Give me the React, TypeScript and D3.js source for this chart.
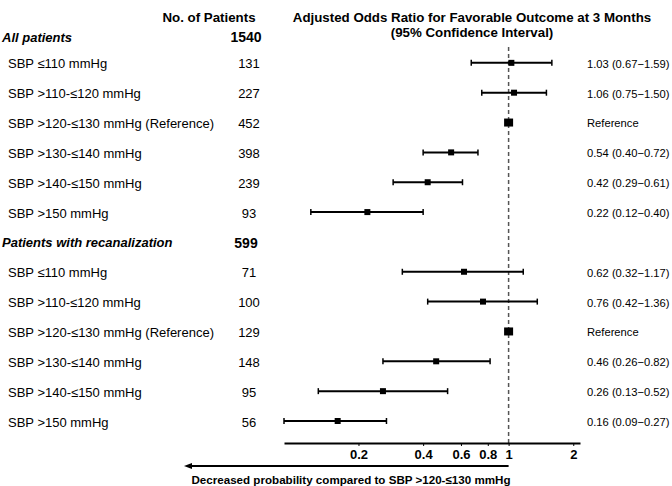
import React, { useEffect, useRef } from 'react';
import * as d3 from 'd3';

// rows of the table
const groupLabels = ['All patients', 'Patients with recanalization'];
const groupTotals = [1540, 599];
const sbpCategories = [
  'SBP ≤110 mmHg',
  'SBP >110-≤120 mmHg',
  'SBP >120-≤130 mmHg (Reference)',
  'SBP >130-≤140 mmHg',
  'SBP >140-≤150 mmHg',
  'SBP >150 mmHg',
];
const referenceIndex = 2;

// all patients
const nAll = [131, 227, 452, 398, 239, 93];
const orAll = [1.03, 1.06, 1, 0.54, 0.42, 0.22];
const lowAll = [0.67, 0.75, 1, 0.40, 0.29, 0.12];
const highAll = [1.59, 1.50, 1, 0.72, 0.61, 0.40];

// patients with recanalization
const nRecan = [71, 100, 129, 148, 95, 56];
const orRecan = [0.62, 0.76, 1, 0.46, 0.26, 0.16];
const lowRecan = [0.32, 0.42, 1, 0.26, 0.13, 0.09];
const highRecan = [1.17, 1.36, 1, 0.82, 0.52, 0.27];

const xTicks = [0.2, 0.4, 0.6, 0.8, 1, 2];

const FONT = '"Liberation Sans", Arial, sans-serif';

function App() {
  const svgRef = useRef<SVGSVGElement>(null);

  useEffect(() => {
    const width = 672;
    const height = 486;
    const axisY = 443;

    const svg = d3.select(svgRef.current)
      .attr('width', width)
      .attr('height', height)
      .style('font-family', FONT);
    svg.selectAll('*').remove();

    // build table rows from the arrays
    type Row = { label: string; n: number; group: boolean; or?: number; lo?: number; hi?: number; ref?: boolean };
    const rows: Row[] = [];
    const groups = [
      { n: nAll, or: orAll, lo: lowAll, hi: highAll },
      { n: nRecan, or: orRecan, lo: lowRecan, hi: highRecan },
    ];
    groups.forEach((g, gi) => {
      rows.push({ label: groupLabels[gi], n: groupTotals[gi], group: true });
      sbpCategories.forEach((c, i) => {
        rows.push({ label: c, n: g.n[i], group: false, or: g.or[i], lo: g.lo[i], hi: g.hi[i], ref: i === referenceIndex });
      });
    });

    const yScale = d3.scalePoint<number>()
      .domain(rows.map((_, i) => i))
      .range([34, 422]);
    // first heading sits a bit lower, just under the column titles
    const rowY = (i: number) => yScale(i)! + (i === 0 ? 3 : 0);

    const xScale = d3.scaleLog()
      .domain([0.09, 2.15])
      .range([284, 580]);

    // headers
    svg.append('text')
      .attr('x', 209).attr('y', 22)
      .attr('text-anchor', 'middle')
      .attr('font-size', 13.3).attr('font-weight', 'bold')
      .text('No. of Patients');
    svg.append('text')
      .attr('x', 472).attr('y', 22)
      .attr('text-anchor', 'middle')
      .attr('font-size', 13.3).attr('font-weight', 'bold')
      .text('Adjusted Odds Ratio for Favorable Outcome at 3 Months');
    svg.append('text')
      .attr('x', 472).attr('y', 37)
      .attr('text-anchor', 'middle')
      .attr('font-size', 13.3).attr('font-weight', 'bold')
      .text('(95% Confidence Interval)');

    // reference line at OR = 1
    svg.append('line')
      .attr('x1', xScale(1)).attr('x2', xScale(1))
      .attr('y1', 47).attr('y2', axisY)
      .attr('stroke', '#555')
      .attr('stroke-width', 1.5)
      .attr('stroke-dasharray', '4,3');

    const rowG = svg.selectAll('.row')
      .data(rows)
      .enter()
      .append('g')
      .attr('class', 'row')
      .attr('transform', (_, i) => `translate(0,${rowY(i)})`);

    rowG.append('text')
      .attr('x', d => (d.group ? 2 : 8))
      .attr('dy', '0.35em')
      .attr('font-size', 13)
      .attr('font-weight', d => (d.group ? 'bold' : 'normal'))
      .attr('font-style', d => (d.group ? 'italic' : 'normal'))
      .text(d => d.label);

    rowG.append('text')
      .attr('x', d => (d.group ? 246 : 249))
      .attr('dy', '0.35em')
      .attr('text-anchor', 'middle')
      .attr('font-size', d => (d.group ? 14 : 13))
      .attr('font-weight', d => (d.group ? 'bold' : 'normal'))
      .text(d => d.n);

    const f2 = d3.format('.2f');
    rowG.filter(d => !d.group)
      .append('text')
      .attr('x', 587)
      .attr('dy', '0.35em')
      .attr('font-size', 11.2)
      .text(d => (d.ref ? 'Reference' : `${f2(d.or!)} (${f2(d.lo!)}−${f2(d.hi!)})`));

    const ci = rowG.filter(d => !d.group && !d.ref)
      .append('g')
      .attr('transform', 'translate(0,-1)');
    ci.append('line')
      .attr('x1', d => xScale(d.lo!)).attr('x2', d => xScale(d.hi!))
      .attr('stroke', '#000').attr('stroke-width', 2);
    ci.append('line')
      .attr('x1', d => xScale(d.lo!)).attr('x2', d => xScale(d.lo!))
      .attr('y1', -3).attr('y2', 3)
      .attr('stroke', '#000').attr('stroke-width', 1.5);
    ci.append('line')
      .attr('x1', d => xScale(d.hi!)).attr('x2', d => xScale(d.hi!))
      .attr('y1', -3).attr('y2', 3)
      .attr('stroke', '#000').attr('stroke-width', 1.5);

    rowG.filter(d => !d.group)
      .append('rect')
      .attr('x', d => xScale(d.or!) - (d.ref ? 4.5 : 3))
      .attr('y', d => (d.ref ? -5 : -4))
      .attr('width', d => (d.ref ? 9 : 6))
      .attr('height', d => (d.ref ? 8 : 6))
      .attr('fill', '#000');

    // x axis
    const axis = svg.append('g')
      .attr('transform', `translate(0,${axisY})`)
      .call(d3.axisBottom(xScale)
        .tickValues(xTicks)
        .tickFormat(d3.format('') as any)
        .tickSize(3)
        .tickSizeOuter(0)
        .tickPadding(4));
    axis.select('.domain').attr('stroke-width', 2);
    axis.selectAll('.tick line').attr('stroke-width', 1);
    axis.selectAll('.tick text')
      .attr('font-family', FONT)
      .attr('font-size', 13)
      .attr('font-weight', 'bold')
      .attr('fill', '#000');

    // arrow under the axis
    const arrowY = 466;
    svg.append('line')
      .attr('x1', xScale(1)).attr('x2', 190)
      .attr('y1', arrowY).attr('y2', arrowY)
      .attr('stroke', '#000').attr('stroke-width', 2);
    svg.append('path')
      .attr('d', `M184,${arrowY} L192,${arrowY - 3} L192,${arrowY + 3} Z`)
      .attr('fill', '#000');
    svg.append('text')
      .attr('x', 351).attr('y', 484)
      .attr('text-anchor', 'middle')
      .attr('font-size', 11.6)
      .attr('font-weight', 'bold')
      .text('Decreased probability compared to SBP >120-≤130 mmHg');
  }, []);

  return <svg ref={svgRef} style={{ position: 'absolute', left: 0, top: 0 }}></svg>;
}

export default App;
